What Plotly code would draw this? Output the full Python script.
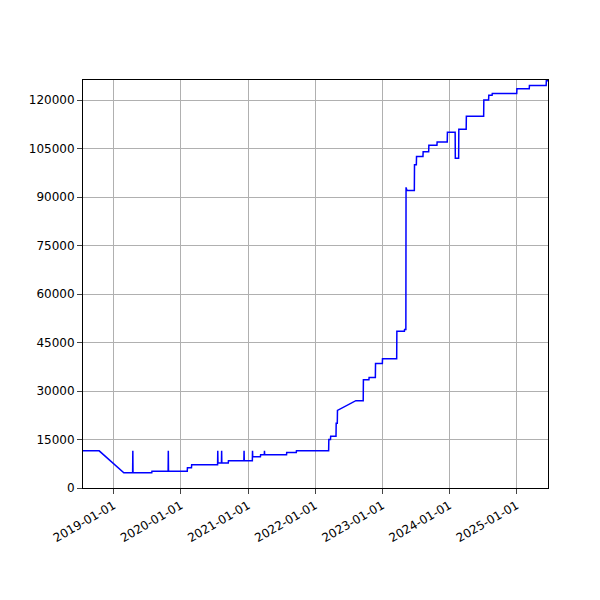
import plotly.graph_objects as go

dates = [
    "2018-07-18", "2018-10-14", "2019-02-25", "2019-04-14", "2019-04-15", "2019-04-16",
    "2019-07-27", "2019-07-28", "2019-10-24", "2019-10-25", "2019-10-26",
    "2020-02-05", "2020-02-06", "2020-02-28", "2020-02-29", "2020-07-19", "2020-07-20",
    "2020-07-21", "2020-08-09", "2020-08-10", "2020-08-11", "2020-09-15", "2020-09-16",
    "2020-12-09", "2020-12-10", "2020-12-11", "2021-01-24", "2021-01-25", "2021-01-26",
    "2021-03-09", "2021-03-10", "2021-03-30", "2021-03-31", "2021-04-01", "2021-07-29",
    "2021-07-30", "2021-09-20", "2021-09-21", "2022-03-15", "2022-03-16", "2022-03-25",
    "2022-03-26", "2022-04-24", "2022-04-25", "2022-05-01", "2022-05-02", "2022-08-10",
    "2022-09-19", "2022-09-20", "2022-10-20", "2022-10-21", "2022-11-24", "2022-11-25",
    "2023-01-01", "2023-01-02", "2023-03-20", "2023-03-21", "2023-05-01", "2023-05-02",
    "2023-05-09", "2023-05-10", "2023-05-15", "2023-06-24", "2023-06-25", "2023-07-05",
    "2023-07-06", "2023-08-10", "2023-08-11", "2023-09-10", "2023-09-11", "2023-10-25",
    "2023-10-26", "2023-12-20", "2023-12-21", "2024-02-01", "2024-02-02", "2024-02-20",
    "2024-02-21", "2024-04-01", "2024-04-02", "2024-07-05", "2024-07-06", "2024-08-01",
    "2024-08-02", "2024-08-20", "2024-08-21", "2025-01-01", "2025-01-02", "2025-03-10",
    "2025-03-11", "2025-06-10", "2025-06-11", "2025-06-20",
]
values = [
    11500, 11500, 4700, 4700, 11500, 4700,
    4700, 5200, 5200, 11500, 5200,
    5200, 6300, 6300, 7200, 7200, 11500,
    7700, 7700, 11500, 7700, 7700, 8400,
    8400, 11500, 8400, 8400, 11500, 9700,
    9700, 10300, 10300, 11500, 10300, 10300,
    11000, 11000, 11500, 11500, 15000, 15000,
    16000, 16000, 20000, 20000, 24000, 27000,
    27000, 33500, 33500, 34200, 34200, 38500,
    38500, 40000, 40000, 48500, 48500, 49000,
    49000, 93000, 92000, 92000, 100000, 100000,
    102500, 102500, 104000, 104000, 106000, 106000,
    107000, 107000, 110000, 110000, 102000, 102000,
    111000, 111000, 115000, 115000, 120000, 120000,
    121500, 121500, 122000, 122000, 123500, 123500,
    124500, 124500, 126000, 126000,
]

fig = go.Figure(go.Scatter(x=dates, y=values, mode="lines",
                           line=dict(color="blue", width=1.5)))

axis_style = dict(showline=True, linecolor="black", mirror=True, ticks="outside",
                  showgrid=True, gridcolor="#b0b0b0", zeroline=False, automargin=False,
                  tickfont=dict(family="DejaVu Sans", size=12, color="black"))
fig.update_xaxes(range=["2018-07-18", "2025-06-20"], tickformat="%Y-%m-%d",
                 dtick="M12", tick0="2019-01-01", tickangle=-30, **axis_style)
fig.update_yaxes(range=[0, 126200], dtick=15000, tickformat="d", **axis_style)
fig.update_layout(width=600, height=600, plot_bgcolor="white", paper_bgcolor="white",
                  margin=dict(l=75, r=60, t=72, b=120), showlegend=False)
fig.write_html("out.html")
